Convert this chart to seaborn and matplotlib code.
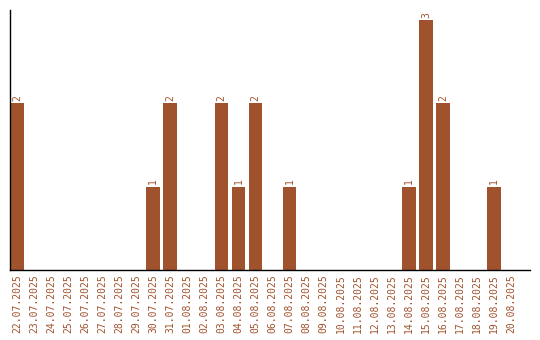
import matplotlib
matplotlib.use("Agg")
import matplotlib.pyplot as plt
import seaborn as sns
import pandas as pd

dates = ["22.07.2025", "23.07.2025", "24.07.2025", "25.07.2025", "26.07.2025",
         "27.07.2025", "28.07.2025", "29.07.2025", "30.07.2025", "31.07.2025",
         "01.08.2025", "02.08.2025", "03.08.2025", "04.08.2025", "05.08.2025",
         "06.08.2025", "07.08.2025", "08.08.2025", "09.08.2025", "10.08.2025",
         "11.08.2025", "12.08.2025", "13.08.2025", "14.08.2025", "15.08.2025",
         "16.08.2025", "17.08.2025", "18.08.2025", "19.08.2025", "20.08.2025"]
counts = [2, 0, 0, 0, 0, 0, 0, 0, 1, 2,
          0, 0, 2, 1, 2, 0, 1, 0, 0, 0,
          0, 0, 0, 1, 3, 2, 0, 0, 1, 0]

color = "#A0522D"
df = pd.DataFrame({"date": dates, "count": counts})

sns.set_style("white")
plt.rcParams["font.family"] = ["DejaVu Sans Mono", "DejaVu Sans"]

fig = plt.figure(figsize=(5.4, 3.4), dpi=100)
ax = fig.add_axes([10/540, 70/340, 520/540, 260/340])
sns.barplot(data=df, x="date", y="count", color=color, saturation=1, width=0.8,
            linewidth=0, ax=ax)

for i, v in enumerate(counts):
    if v > 0:
        ax.text(i, v + 0.03, str(v), rotation=90, ha="center", va="bottom",
                fontsize=7, color=color)

ax.set_xlim(-0.4, 30.1)
ax.set_ylim(0, 3.12)
ax.set_xlabel("")
ax.set_ylabel("")
ax.set_yticks([])
ax.tick_params(axis="x", length=0, pad=3, labelsize=7, labelcolor=color, rotation=90)
for s in ["top", "right"]:
    ax.spines[s].set_visible(False)
for s in ["left", "bottom"]:
    ax.spines[s].set_color("black")
    ax.spines[s].set_linewidth(1)

fig.savefig("out.png", dpi=100)
